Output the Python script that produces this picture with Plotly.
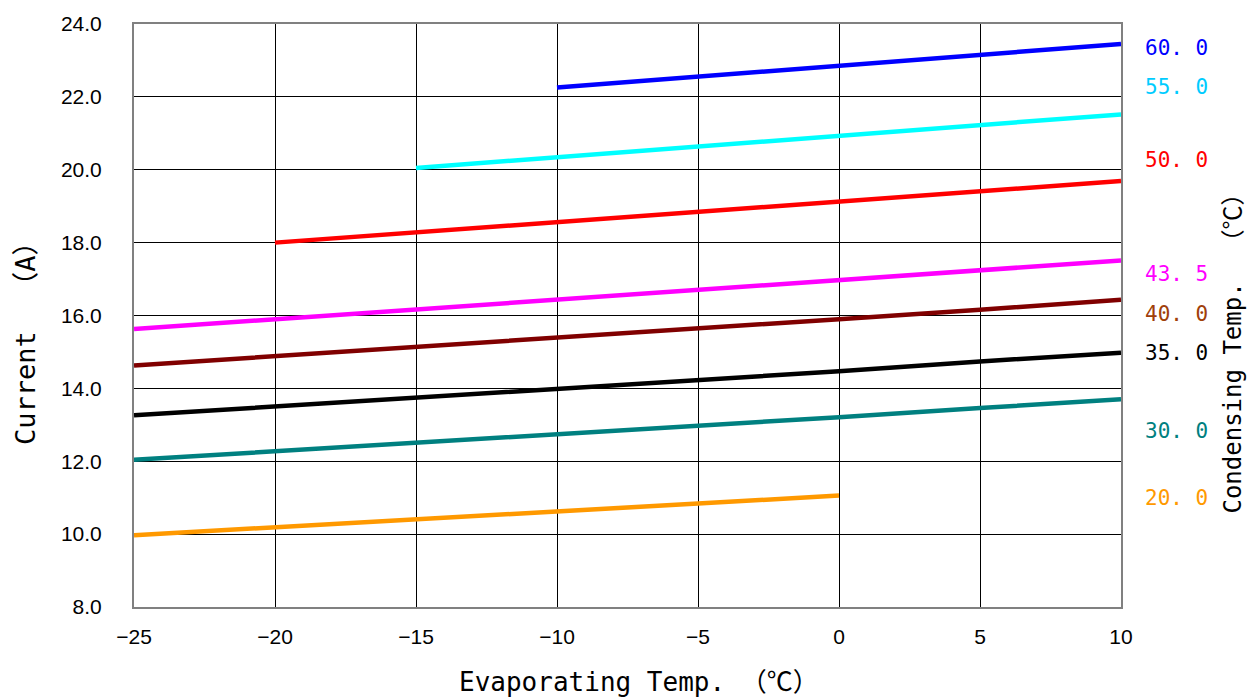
import plotly.graph_objects as go

evap_temps = [-25, -20, -15, -10, -5, 0, 5, 10]

series_names = ["60.0", "55.0", "50.0", "43.5", "40.0", "35.0", "30.0", "20.0"]
series_x = {
    "60.0": [-10, -5, 0, 5, 10],
    "55.0": [-15, -10, -5, 0, 5, 10],
    "50.0": [-20, -15, -10, -5, 0, 5, 10],
    "43.5": evap_temps,
    "40.0": evap_temps,
    "35.0": evap_temps,
    "30.0": evap_temps,
    "20.0": [-25, -20, -15, -10, -5, 0],
}
series_y = {
    "60.0": [22.26, 22.55, 22.85, 23.15, 23.45],
    "55.0": [20.05, 20.35, 20.63, 20.93, 21.22, 21.52],
    "50.0": [18.0, 18.28, 18.55, 18.83, 19.11, 19.4, 19.69],
    "43.5": [15.63, 15.9, 16.17, 16.43, 16.7, 16.95, 17.24, 17.51],
    "40.0": [14.63, 14.88, 15.12, 15.37, 15.63, 15.9, 16.16, 16.43],
    "35.0": [13.26, 13.5, 13.74, 13.99, 14.24, 14.47, 14.74, 14.98],
    "30.0": [12.04, 12.27, 12.51, 12.74, 12.97, 13.21, 13.46, 13.7],
    "20.0": [9.97, 10.18, 10.4, 10.62, 10.84, 11.06],
}
line_colors = {
    "60.0": "#0000FF", "55.0": "#00FFFF", "50.0": "#FF0000", "43.5": "#FF00FF",
    "40.0": "#800000", "35.0": "#000000", "30.0": "#008080", "20.0": "#FF9900",
}
label_colors = {
    "60.0": "#0000FF", "55.0": "#00CCFF", "50.0": "#FF0000", "43.5": "#FF00FF",
    "40.0": "#A0400A", "35.0": "#000000", "30.0": "#008080", "20.0": "#FF9900",
}
label_y = {
    "60.0": 23.35, "55.0": 22.28, "50.0": 20.27, "43.5": 17.13,
    "40.0": 16.04, "35.0": 14.98, "30.0": 12.83, "20.0": 11.0,
}

x_ticks = [-25, -20, -15, -10, -5, 0, 5, 10]
x_tick_text = ["\u221225", "\u221220", "\u221215", "\u221210", "\u22125", "0", "5", "10"]
y_ticks = [8, 10, 12, 14, 16, 18, 20, 22, 24]
y_tick_text = ["8.0", "10.0", "12.0", "14.0", "16.0", "18.0", "20.0", "22.0", "24.0"]

mono = "DejaVu Sans Mono, Noto Sans CJK JP, monospace"
sans = "Liberation Sans, Arial, sans-serif"

fig = go.Figure()
for name in series_names:
    fig.add_trace(go.Scatter(
        x=series_x[name], y=series_y[name], mode="lines",
        line=dict(color=line_colors[name], width=4.5), name=name, showlegend=False,
    ))

for name in series_names:
    fig.add_annotation(
        x=1.0, xref="paper", xanchor="left", xshift=22,
        y=label_y[name], yref="y", yanchor="middle",
        text=name.replace(".", ". "), showarrow=False,
        font=dict(family=mono, size=21, color=label_colors[name]),
    )

fig.add_annotation(
    x=1.0, xref="paper", xshift=112, y=0.445, yref="paper",
    xanchor="center", yanchor="middle",
    text="Condensing Temp.  \uff08\u2103\uff09", textangle=-90, showarrow=False,
    font=dict(family=mono, size=24, color="#000000"),
)

fig.add_annotation(
    x=0.0, xref="paper", xshift=-109, y=0.463, yref="paper",
    xanchor="center", yanchor="middle",
    text="Current  \uff08A\uff09", textangle=-90, showarrow=False,
    font=dict(family=mono, size=27, color="#000000"),
)

fig.add_annotation(
    x=0.5, xref="paper", xshift=11, y=0.0, yref="paper", yshift=-75,
    xanchor="center", yanchor="middle",
    text="Evaporating Temp. \uff08\u2103\uff09", showarrow=False,
    font=dict(family=mono, size=26, color="#000000"),
)

fig.update_layout(
    width=1255, height=700,
    margin=dict(l=134, r=134, t=20, b=93),
    paper_bgcolor="white", plot_bgcolor="white",
    xaxis=dict(
        range=[-25, 10], tickvals=x_ticks, ticktext=x_tick_text,
        showgrid=True, gridcolor="#000000", gridwidth=1,
        showline=True, linecolor="#808080", linewidth=2, mirror=True,
        ticks="outside", ticklen=10, tickcolor="rgba(0,0,0,0)", zeroline=False,
        tickfont=dict(family=sans, size=21, color="#000000"),
    ),
    yaxis=dict(
        range=[8, 24], tickvals=y_ticks, ticktext=y_tick_text,
        showgrid=True, gridcolor="#000000", gridwidth=1,
        showline=True, linecolor="#808080", linewidth=2, mirror=True,
        ticks="outside", ticklen=26, tickcolor="rgba(0,0,0,0)", zeroline=False,
        tickfont=dict(family=sans, size=21, color="#000000"),
    ),
)

fig.write_html("out.html")
